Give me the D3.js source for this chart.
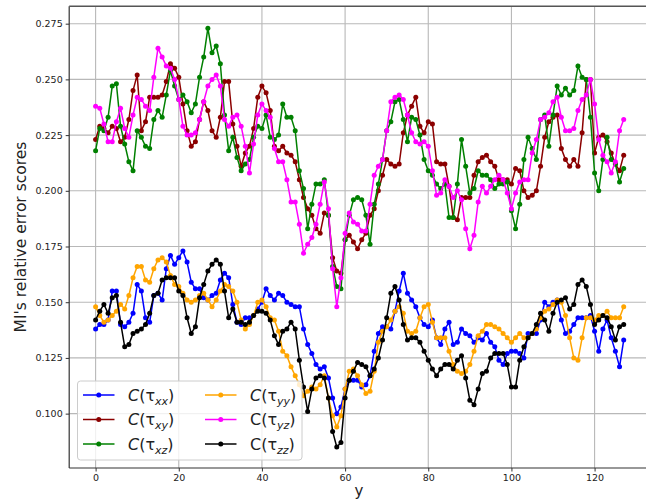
<!DOCTYPE html>
<html><head><meta charset="utf-8">
<script src="https://cdn.jsdelivr.net/npm/d3@7"></script>
<style>body{margin:0;background:#fff}svg{display:block;font-family:"DejaVu Sans",sans-serif}</style>
</head><body><svg id="c" width="646" height="502"></svg>
<script>
const xIndex = d3.range(128);
const xTicks = [0, 20, 40, 60, 80, 100, 120];
const yTicks = [0.100, 0.125, 0.150, 0.175, 0.200, 0.225, 0.250, 0.275];

const tauXX = [.138,.140,.140,.142,.155,.155,.140,.139,.141,.145,
.158,.155,.143,.141,.153,.154,.151,.165,.171,.167,
.170,.173,.168,.159,.156,.156,.152,.151,.153,.154,
.160,.163,.161,.149,.141,.140,.143,.143,.144,.147,
.150,.156,.153,.151,.154,.153,.150,.149,.148,.148,
.138,.131,.127,.122,.120,.121,.116,.107,.100,.103,
.111,.115,.115,.115,.112,.113,.117,.128,.136,.139,
.139,.138,.146,.155,.163,.154,.151,.148,.143,.140,
.139,.142,.134,.131,.138,.141,.131,.132,.138,.136,
.135,.132,.134,.133,.136,.132,.130,.124,.122,.127,
.128,.128,.127,.125,.136,.136,.136,.142,.150,.148,
.150,.151,.142,.136,.137,.140,.143,.143,.143,.144,
.137,.128,.138,.142,.134,.128,.121,.133];

const tauXY = [.223,.229,.228,.226,.229,.228,.222,.224,.232,.245,
.252,.227,.231,.242,.242,.242,.243,.249,.257,.255,
.251,.239,.227,.220,.222,.232,.240,.236,.227,.224,
.233,.249,.249,.230,.220,.211,.217,.220,.228,.242,
.247,.244,.236,.220,.218,.220,.217,.216,.213,.205,
.197,.192,.189,.183,.181,.190,.189,.170,.164,.163,
.178,.180,.177,.174,.178,.181,.189,.192,.200,.207,
.214,.212,.211,.212,.226,.234,.238,.242,.229,.226,
.231,.230,.213,.212,.212,.202,.188,.187,.197,.197,
.197,.207,.213,.215,.216,.213,.211,.205,.205,.205,
.203,.210,.209,.200,.197,.198,.200,.211,.224,.231,
.233,.234,.219,.214,.211,.214,.211,.226,.250,.250,
.217,.224,.225,.222,.217,.212,.209,.216];

const tauXZ = [.218,.228,.227,.233,.247,.248,.229,.221,.213,.209,
.227,.224,.220,.219,.232,.236,.233,.243,.254,.247,
.241,.243,.240,.235,.239,.251,.260,.273,.262,.265,
.257,.234,.218,.224,.215,.209,.212,.214,.224,.229,
.228,.234,.224,.223,.225,.239,.233,.233,.227,.209,
.201,.183,.194,.203,.203,.205,.189,.166,.157,.156,
.178,.189,.196,.197,.196,.189,.176,.194,.203,.214,
.227,.231,.240,.241,.232,.222,.233,.232,.225,.214,
.209,.207,.203,.201,.203,.188,.188,.203,.223,.211,
.199,.201,.209,.207,.207,.205,.201,.203,.203,.204,
.191,.183,.194,.214,.224,.219,.214,.232,.234,.220,
.234,.247,.243,.246,.243,.245,.256,.251,.250,.233,
.208,.200,.214,.224,.214,.212,.204,.210];

const tauYY = [.148,.144,.141,.142,.144,.146,.149,.147,.153,.161,
.166,.166,.160,.159,.165,.169,.170,.168,.162,.158,
.157,.154,.151,.150,.151,.153,.154,.151,.148,.151,
.155,.158,.157,.155,.150,.142,.138,.140,.144,.150,
.151,.148,.143,.142,.137,.128,.126,.121,.117,.113,
.108,.110,.112,.111,.113,.117,.107,.099,.094,.099,
.111,.119,.120,.117,.113,.109,.110,.119,.132,.137,
.139,.142,.146,.148,.145,.137,.136,.137,.143,.148,
.149,.141,.134,.134,.134,.128,.122,.119,.118,.119,
.122,.128,.135,.137,.140,.140,.139,.138,.136,.134,
.132,.134,.136,.134,.134,.136,.138,.143,.146,.147,
.149,.151,.150,.144,.134,.125,.124,.134,.143,.143,
.142,.144,.144,.146,.143,.143,.143,.148];

const tauYZ = [.238,.237,.230,.222,.222,.231,.237,.228,.224,.234,
.242,.241,.238,.236,.251,.264,.260,.256,.255,.250,
.241,.229,.225,.225,.226,.232,.240,.247,.250,.252,
.247,.232,.229,.233,.234,.229,.220,.208,.221,.234,
.239,.236,.233,.219,.213,.213,.205,.195,.195,.185,
.172,.176,.179,.185,.194,.204,.192,.165,.148,.161,
.181,.190,.186,.185,.182,.182,.194,.207,.211,.214,
.227,.240,.242,.243,.241,.234,.226,.222,.221,.222,
.220,.209,.198,.199,.205,.202,.197,.200,.196,.183,
.174,.180,.195,.202,.199,.202,.205,.207,.205,.199,
.192,.199,.204,.205,.205,.217,.223,.232,.233,.235,
.240,.242,.233,.227,.227,.228,.236,.241,.243,.250,
.239,.223,.216,.213,.208,.213,.227,.232];

const tauZZ = [.142,.146,.149,.145,.152,.153,.141,.130,.131,.136,
.137,.138,.140,.145,.153,.154,.160,.161,.161,.161,
.155,.153,.143,.136,.139,.152,.158,.164,.167,.169,
.167,.155,.143,.147,.141,.141,.140,.141,.144,.146,
.146,.145,.142,.135,.131,.137,.138,.141,.138,.124,
.112,.101,.111,.116,.117,.116,.107,.092,.085,.087,
.107,.115,.119,.123,.122,.121,.117,.120,.125,.133,
.143,.154,.157,.151,.140,.133,.134,.134,.132,.128,
.124,.120,.117,.120,.122,.122,.120,.124,.126,.116,
.106,.104,.111,.118,.119,.125,.127,.127,.127,.122,
.112,.112,.124,.130,.134,.136,.140,.145,.142,.137,
.145,.150,.151,.152,.147,.149,.158,.160,.157,.149,
.140,.142,.144,.143,.139,.133,.139,.140];

const seriesNames = ["xx", "xy", "xz", "yy", "yz", "zz"];
const seriesColors = ["#0000ff", "#8b0000", "#008000", "#ffa500", "#ff00ff", "#000000"];
const seriesValues = [tauXX, tauXY, tauXZ, tauYY, tauYZ, tauZZ];
const italicC = [true, true, true, true, false, false];

const svg = d3.select("#c");
const L = 69.2, T = 6.3, B = 468, R = 650.1;
const x = d3.scaleLinear().domain([-6.35, 133.35]).range([L, R]);
const y = d3.scaleLinear().domain([0.0756, 0.2828]).range([B, T]);

// grid
const g = svg.append("g");
g.selectAll(".gx").data(xTicks).join("line")
  .attr("x1", d => x(d)).attr("x2", d => x(d)).attr("y1", T).attr("y2", B)
  .attr("stroke", "#b8b8b8").attr("stroke-width", 1.1);
g.selectAll(".gy").data(yTicks).join("line")
  .attr("x1", L).attr("x2", R).attr("y1", d => y(d)).attr("y2", d => y(d))
  .attr("stroke", "#b8b8b8").attr("stroke-width", 1.1);

// axes
const xAxis = svg.append("g").attr("transform", `translate(0,${B})`)
  .call(d3.axisBottom(x).tickValues(xTicks).tickFormat(d3.format("d")).tickSize(3.5).tickPadding(3));
const yAxis = svg.append("g").attr("transform", `translate(${L},0)`)
  .call(d3.axisLeft(y).tickValues(yTicks).tickFormat(d3.format(".3f")).tickSize(3.5).tickPadding(3));
[xAxis, yAxis].forEach(a => {
  a.select(".domain").remove();
  a.selectAll("text").attr("font-family", "DejaVu Sans").attr("font-size", 9.5).attr("fill", "#222");
  a.selectAll("line").attr("stroke", "#333");
});

// spines
svg.append("line").attr("x1", L).attr("x2", L).attr("y1", T).attr("y2", B).attr("stroke", "#333").attr("stroke-width", 1.2);
svg.append("line").attr("x1", L).attr("x2", R).attr("y1", B).attr("y2", B).attr("stroke", "#333").attr("stroke-width", 1.2);
svg.append("line").attr("x1", L).attr("x2", R).attr("y1", T).attr("y2", T).attr("stroke", "#555").attr("stroke-width", 1.4);

// series
const line = d3.line().x((d, i) => x(xIndex[i])).y(d => y(d));
seriesValues.forEach((vals, k) => {
  const s = svg.append("g");
  s.append("path").attr("d", line(vals)).attr("fill", "none")
    .attr("stroke", seriesColors[k]).attr("stroke-width", 1.5);
  s.selectAll("circle").data(vals).join("circle")
    .attr("cx", (d, i) => x(xIndex[i])).attr("cy", d => y(d)).attr("r", 2.5)
    .attr("fill", seriesColors[k]);
});

// labels
svg.append("text").attr("x", 359).attr("y", 496).attr("text-anchor", "middle")
  .attr("font-size", 15).attr("fill", "#222").text("y");
svg.append("text").attr("transform", "translate(26,237) rotate(-90)").attr("text-anchor", "middle")
  .attr("font-size", 15.5).attr("fill", "#222").text("MI's relative error scores");

// legend
const lg = svg.append("g");
lg.append("rect").attr("x", 77.5).attr("y", 381).attr("width", 224.5).attr("height", 79).attr("rx", 3)
  .attr("fill", "#fff").attr("fill-opacity", 0.8).attr("stroke", "#cccccc").attr("stroke-width", 1);
seriesNames.forEach((nm, k) => {
  const col = Math.floor(k / 3), row = k % 3;
  const lx = col === 0 ? 83 : 205, ly = 395 + row * 24.5;
  lg.append("line").attr("x1", lx).attr("x2", lx + 31.5).attr("y1", ly).attr("y2", ly)
    .attr("stroke", seriesColors[k]).attr("stroke-width", 1.5);
  lg.append("circle").attr("cx", lx + 15.75).attr("cy", ly).attr("r", 2.5).attr("fill", seriesColors[k]);
  const t = lg.append("text").attr("x", lx + 45).attr("y", ly + 5.5).attr("font-size", 16).attr("fill", "#222");
  t.append("tspan").attr("font-style", italicC[k] ? "italic" : "normal").text("C");
  t.append("tspan").text("(τ");
  t.append("tspan").attr("font-style", "italic").attr("font-size", 11).attr("dy", 4).text(nm);
  t.append("tspan").attr("dy", -4).text(")");
});
</script></body></html>
